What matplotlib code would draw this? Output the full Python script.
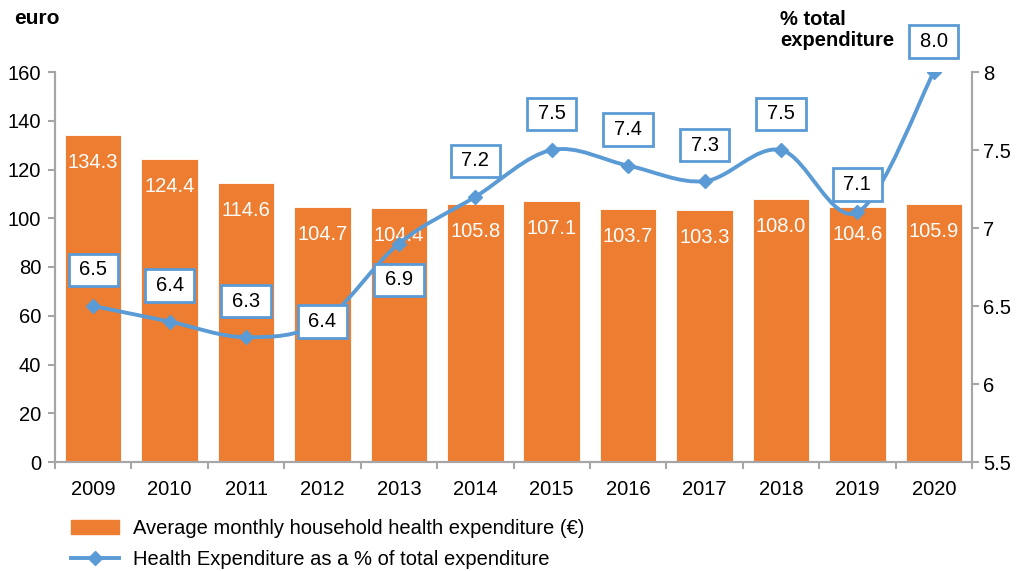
import numpy as np
import matplotlib.pyplot as plt
from matplotlib.path import Path
from matplotlib.patches import PathPatch
from matplotlib.lines import Line2D
from matplotlib.patches import Patch

plt.rcParams['font.family'] = ['Liberation Sans', 'DejaVu Sans']

# data
years = ['2009', '2010', '2011', '2012', '2013', '2014', '2015', '2016', '2017', '2018', '2019', '2020']
monthly_eur = [134.3, 124.4, 114.6, 104.7, 104.4, 105.8, 107.1, 103.7, 103.3, 108.0, 104.6, 105.9]
share_pct = [6.5, 6.4, 6.3, 6.4, 6.9, 7.2, 7.5, 7.4, 7.3, 7.5, 7.1, 8.0]

orange = '#ED7D31'
blue = '#5B9BD5'
grey = '#A6A6A6'
fs = 14.5

fig = plt.figure(figsize=(10.29, 5.71), dpi=100)
ax = fig.add_axes([55 / 1029, 1 - 462 / 571, 917 / 1029, 390 / 571])
ax2 = ax.twinx()

x = np.arange(len(years))
ax.bar(x, monthly_eur, width=0.74, color=orange, edgecolor='white', linewidth=0.6, zorder=2)
for xi, v in zip(x, monthly_eur):
    ax.annotate(f'{v:.1f}', (xi, v), xytext=(0, -13), textcoords='offset points',
                ha='center', va='top', color='white', fontsize=fs)

ax.set_xlim(-0.5, len(years) - 0.5)
ax.set_ylim(0, 160)
ax.set_yticks(range(0, 161, 20))
ax.set_xticks(x)
ax.set_xticklabels(years)
ax.set_xticks(np.arange(-0.5, len(years)), minor=True)
ax.tick_params(axis='x', which='major', length=0, pad=13, labelsize=fs)
ax.tick_params(axis='x', which='minor', length=5, color=grey, width=1.5)
ax.tick_params(axis='y', length=5, color=grey, width=1.5, labelsize=fs, pad=5)

ax2.set_ylim(5.5, 8)
ax2.set_yticks([5.5, 6, 6.5, 7, 7.5, 8])
ax2.set_yticklabels(['5.5', '6', '6.5', '7', '7.5', '8'])
ax2.tick_params(axis='y', length=5, color=grey, width=1.5, labelsize=fs, pad=3)

for a in (ax, ax2):
    a.spines['top'].set_visible(False)
    for s in ('left', 'right', 'bottom'):
        a.spines[s].set_color(grey)
        a.spines[s].set_linewidth(1.5)

# smoothed line (Catmull-Rom style bezier like the spreadsheet)
pts = np.column_stack([x, share_pct]).astype(float)
verts = [tuple(pts[0])]
codes = [Path.MOVETO]
for i in range(len(pts) - 1):
    p0 = pts[i - 1] if i > 0 else pts[i]
    p1 = pts[i]
    p2 = pts[i + 1]
    p3 = pts[i + 2] if i + 2 < len(pts) else pts[i + 1]
    c1 = p1 + (p2 - p0) / 6
    c2 = p2 - (p3 - p1) / 6
    verts += [tuple(c1), tuple(c2), tuple(p2)]
    codes += [Path.CURVE4] * 3
ax2.add_patch(PathPatch(Path(verts, codes), fill=False, edgecolor=blue, lw=2.8, zorder=3))
ax2.plot(x, share_pct, ls='none', marker='D', ms=7, color=blue, zorder=4)

offsets = [26, 26, 26, 0, -26, 26, 26, 26, 26, 26, 20, 22]
for xi, v, off in zip(x, share_pct, offsets):
    ax2.annotate(f'\u2009{v:.1f}\u2009', (xi, v), xytext=(0, off), textcoords='offset points',
                 ha='center', va='center', fontsize=fs, zorder=5,
                 bbox=dict(boxstyle='square,pad=0.33', fc='white', ec=blue, lw=2))

fig.text(14 / 1029, 1 - 18 / 571, 'euro', fontsize=15, fontweight='bold', va='center')
fig.text(780 / 1029, 1 - 30 / 571, '% total\nexpenditure', fontsize=14.5, fontweight='bold',
         va='center', ha='left', linespacing=1.15)

handles = [Patch(color=orange),
           Line2D([], [], color=blue, lw=2.8, marker='D', ms=7)]
labels = ['Average monthly household health expenditure (€)',
          'Health Expenditure as a % of total expenditure']
fig.legend(handles, labels, loc='upper left', bbox_to_anchor=(53 / 1029, 1 - 501 / 571),
           frameon=False, fontsize=fs, handlelength=2.4, handletextpad=0.65,
           labelspacing=0.6)

fig.savefig('out.png', dpi=100)
